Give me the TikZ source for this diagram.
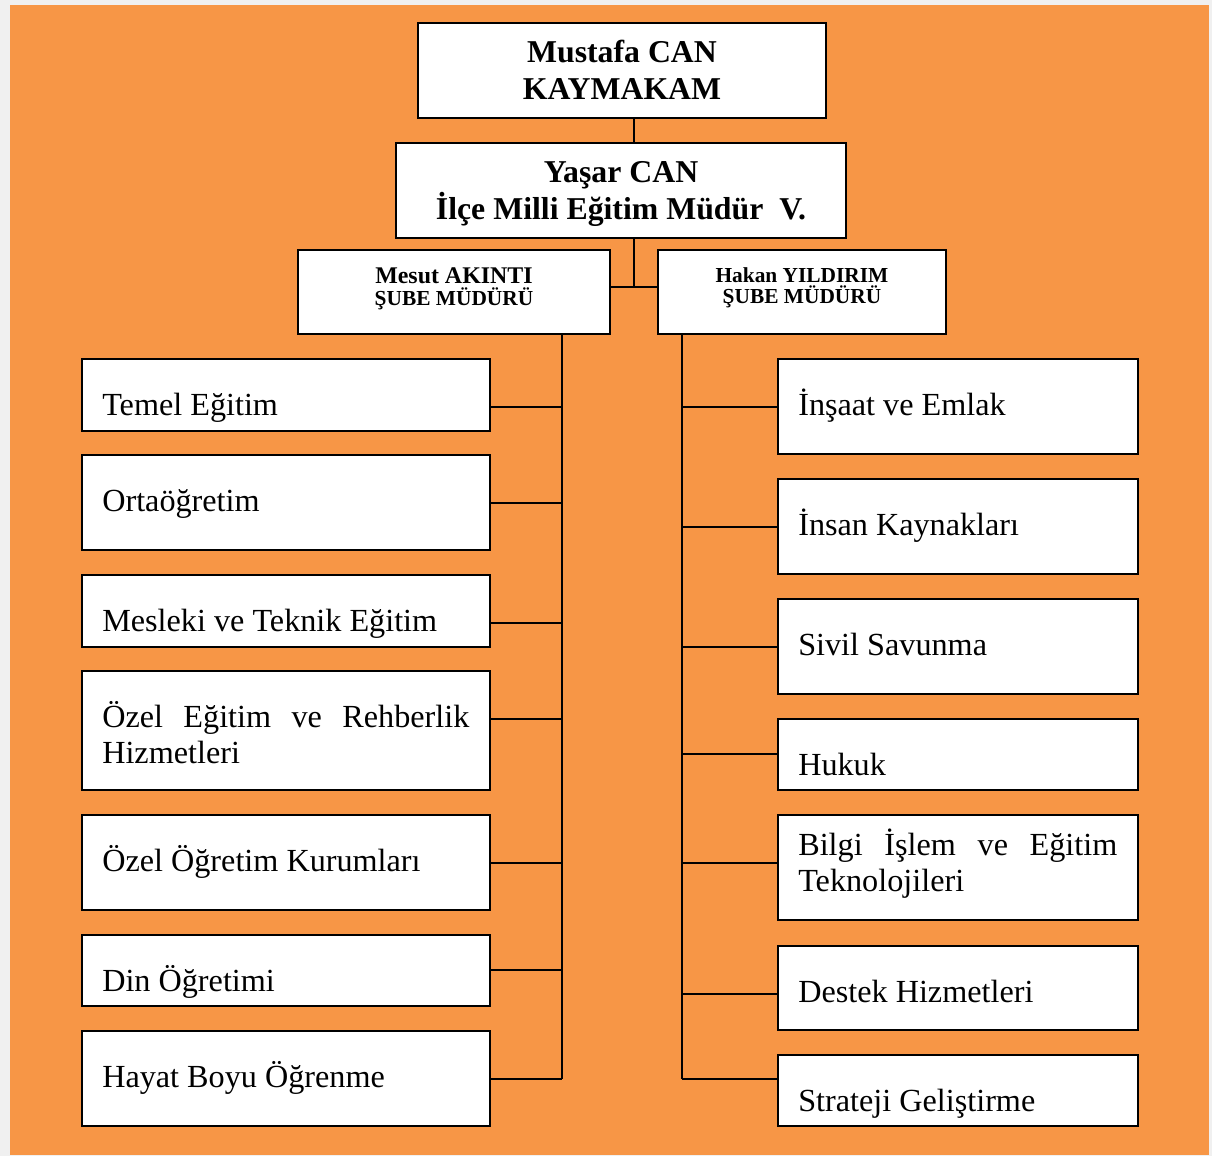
\documentclass[tikz,border=0pt]{standalone}
\usepackage{fontspec}
\setmainfont{Liberation Serif}
\usetikzlibrary{fit}
\definecolor{panel}{HTML}{F79646}
\definecolor{frame}{HTML}{F0F0F0}
\newcommand{\rank}{\fontsize{15.2}{15.6}\selectfont}
\tikzset{
  unit/.style={draw, fill=white, line width=1.6pt, inner sep=0pt},
  link/.style={line width=1.1pt},
  head/.style={anchor=base, inner sep=0pt, align=center, font=\fontsize{22.6}{26.5}\selectfont\bfseries},
  chief/.style={anchor=base, inner sep=0pt, align=center, font=\fontsize{17}{15.6}\selectfont\bfseries},
  label/.style={anchor=base west, inner sep=0pt, font=\fontsize{22.9}{26.3}\selectfont},
  para/.style={label, align=justify, execute at begin node={\tolerance=9999\hbadness=10000}}
}
\begin{document}
\begin{tikzpicture}[x=0.025cm, y=-0.025cm]
\useasboundingbox (0,0) rectangle (1212,1156);
\fill[frame] (0,0) rectangle (1212,1156);
\fill[panel] (10,5) rectangle (1209,1155);

\node[unit, fit={(418,23) (826,118)}] (v0) {};
\node[unit, fit={(396,143) (846,238)}] (v1) {};
\node[unit, fit={(298,250) (610,334)}] (v2) {};
\node[unit, fit={(658,250) (946,334)}] (v3) {};
% multi-line nodes sit on their last line
\node[head] (t0) at (622,100) {Mustafa CAN\\KAYMAKAM};
\node[head] (t1) at (621,220) {Yaşar CAN\\İlçe Milli Eğitim Müdür~ V.};
\node[chief] (t2) at (454,305) {Mesut AKINTI\\\rank ŞUBE MÜDÜRÜ};
\node[chief] (t3) at (802,304) {\rank Hakan YILDIRIM\\\rank ŞUBE MÜDÜRÜ};

% left column
\node[unit, fit={(82,359) (490,431)}] (v4) {};
\node[unit, fit={(82,455) (490,550)}] (v5) {};
\node[unit, fit={(82,575) (490,647)}] (v6) {};
\node[unit, fit={(82,671) (490,790)}] (v7) {};
\node[unit, fit={(82,815) (490,910)}] (v8) {};
\node[unit, fit={(82,935) (490,1006)}] (v9) {};
\node[unit, fit={(82,1031) (490,1126)}] (v10) {};
\node[label] (t4) at (102,415) {Temel Eğitim};
\node[label] (t5) at (102,511) {Ortaöğretim};
\node[label] (t6) at (102,631) {Mesleki ve Teknik Eğitim};
\node[para, text width=9.175cm] (t7) at (102,727) {Özel Eğitim ve Rehberlik Hizmetleri};
\node[label] (t8) at (102,871) {Özel Öğretim Kurumları};
\node[label] (t9) at (102,991) {Din Öğretimi};
\node[label] (t10) at (102,1087) {Hayat Boyu Öğrenme};

% right column
\node[unit, fit={(778,359) (1138,454)}] (v11) {};
\node[unit, fit={(778,479) (1138,574)}] (v12) {};
\node[unit, fit={(778,599) (1138,694)}] (v13) {};
\node[unit, fit={(778,719) (1138,790)}] (v14) {};
\node[unit, fit={(778,815) (1138,920)}] (v15) {};
\node[unit, fit={(778,946) (1138,1030)}] (v16) {};
\node[unit, fit={(778,1055) (1138,1126)}] (v17) {};
\node[label] (t11) at (798,415) {İnşaat ve Emlak};
\node[label] (t12) at (798,535) {İnsan Kaynakları};
\node[label] (t13) at (798,655) {Sivil Savunma};
\node[label] (t14) at (798,775) {Hukuk};
\node[para, text width=7.975cm] (t15) at (798,855) {Bilgi İşlem ve Eğitim Teknolojileri};
\node[label] (t16) at (798,1002) {Destek Hizmetleri};
\node[label] (t17) at (798,1111) {Strateji Geliştirme};

\coordinate (c0) at (634,287);
\coordinate (b4) at (562,407);
\coordinate (b5) at (562,503);
\coordinate (b6) at (562,623);
\coordinate (b7) at (562,719);
\coordinate (b8) at (562,863);
\coordinate (b9) at (562,970);
\coordinate (b10) at (562,1079);
\coordinate (b11) at (682,407);
\coordinate (b12) at (682,527);
\coordinate (b13) at (682,647);
\coordinate (b14) at (682,754);
\coordinate (b15) at (682,863);
\coordinate (b16) at (682,994);
\coordinate (b17) at (682,1079);

\draw[link] (v0.south -| c0) -- (v1.north -| c0);
\draw[link] (v1.south -| c0) -- (c0);
\draw[link] (v2.east |- c0) -- (v3.west |- c0);
\draw[link] (v2.south -| b4) -- (b10);
\draw[link] (v3.south -| b11) -- (b17);
\draw[link] (v4.east |- b4) -- (b4);
\draw[link] (v5.east |- b5) -- (b5);
\draw[link] (v6.east |- b6) -- (b6);
\draw[link] (v7.east |- b7) -- (b7);
\draw[link] (v8.east |- b8) -- (b8);
\draw[link] (v9.east |- b9) -- (b9);
\draw[link] (v10.east |- b10) -- (b10);
\draw[link] (v11.west |- b11) -- (b11);
\draw[link] (v12.west |- b12) -- (b12);
\draw[link] (v13.west |- b13) -- (b13);
\draw[link] (v14.west |- b14) -- (b14);
\draw[link] (v15.west |- b15) -- (b15);
\draw[link] (v16.west |- b16) -- (b16);
\draw[link] (v17.west |- b17) -- (b17);
\end{tikzpicture}
\end{document}
